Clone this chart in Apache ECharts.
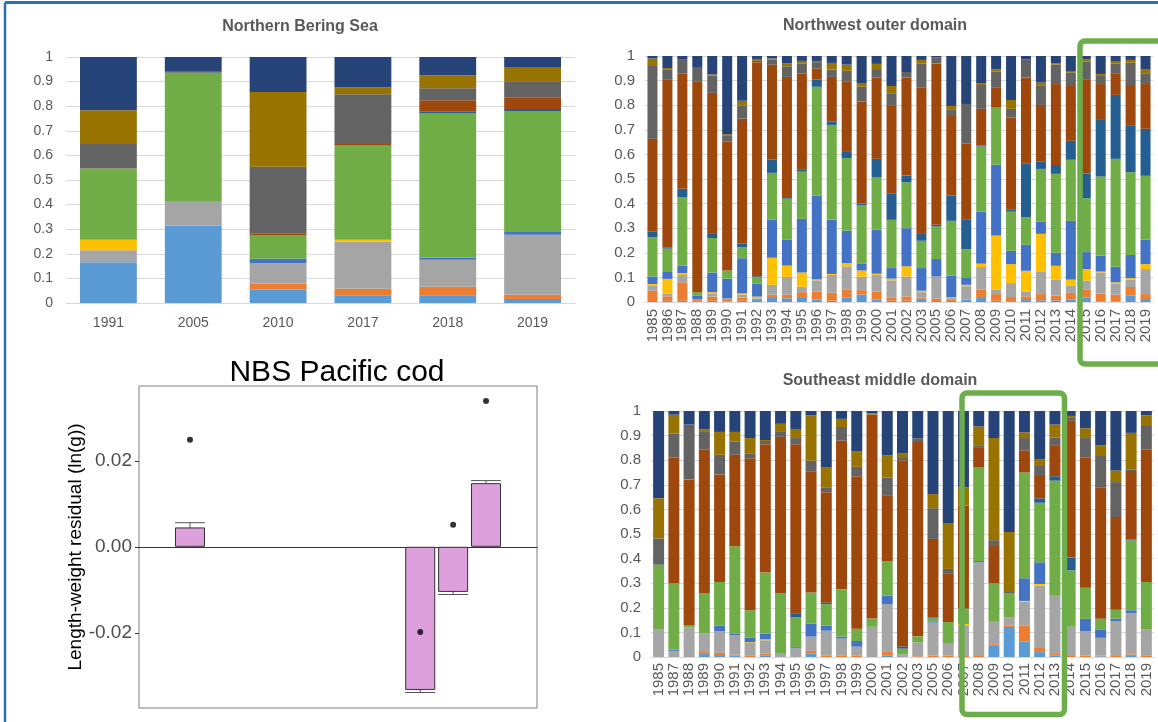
<!DOCTYPE html>
<html>
<head>
<meta charset="utf-8">
<script src="https://cdn.jsdelivr.net/npm/echarts@6.0.0/dist/echarts.min.js"></script>
<style>
  html, body { margin: 0; padding: 0; background: #ffffff; }
  #main { width: 1158px; height: 722px; }
</style>
</head>
<body>
<div id="main"></div>
<script>
// Diet composition groups, stacked bottom to top
const groupNames = ['Group 1', 'Group 2', 'Group 3', 'Group 4', 'Group 5', 'Group 6',
                    'Group 7', 'Group 8', 'Group 9', 'Group 10', 'Group 11'];
const groupColors = ['#5B9BD5', '#ED7D31', '#A5A5A5', '#FFC000', '#4472C4', '#70AD47',
                     '#255E91', '#9E480E', '#636363', '#997300', '#264478'];

// Northern Bering Sea: one row per year, proportions per group
const nbsYears = ['1991', '2005', '2010', '2017', '2018', '2019'];
const nbsShares = [
  [.166, 0, .048, .043, 0, .290, 0, 0, .099, .138, .216],
  [.314, 0, .101, 0, 0, .521, 0, 0, .004, 0, .060],
  [.054, .024, .084, 0, .018, .096, 0, .005, .273, .304, .142],
  [.032, .026, .191, .008, 0, .385, 0, .004, .203, .027, .124],
  [.032, .034, .110, 0, .009, .585, .007, .047, .049, .053, .074],
  [.016, .018, .243, 0, .012, .491, .009, .047, .065, .058, .041]
];

// Northwest outer domain
const nwYears = ['1985', '1986', '1987', '1988', '1989', '1990', '1991', '1992', '1993', '1994',
                 '1995', '1996', '1997', '1998', '1999', '2000', '2001', '2002', '2003', '2005',
                 '2006', '2007', '2008', '2009', '2010', '2011', '2012', '2013', '2014', '2015',
                 '2016', '2017', '2018', '2019'];
const nwShares = [
  [0, .046, .020, .007, .031, .160, .023, .376, .300, .027, .010],
  [.005, .018, .012, .059, .028, .095, .005, .683, .041, .005, .049],
  [.005, .075, .030, .008, .030, .277, .035, .470, .055, 0, .015],
  [.003, .005, .004, 0, .013, .015, 0, .855, .057, 0, .048],
  [.005, .017, .013, .005, .080, .140, .020, .570, .070, .005, .075],
  [.003, .005, .007, 0, .080, .033, 0, .524, .026, .004, .318],
  [.005, .013, .012, .005, .143, .044, .016, .507, .053, .020, .182],
  [.008, .004, .003, .007, .053, .027, .003, .870, .005, .008, .012],
  [.020, .010, .040, .110, .155, .190, .055, .385, .020, .005, .010],
  [.015, .015, .072, .046, .105, .167, .003, .492, .043, .012, .030],
  [.020, .020, .022, .058, .218, .192, .008, .390, .042, .010, .020],
  [.010, .033, .045, .004, .340, .443, .030, .045, .025, .005, .020],
  [.005, .033, .072, .004, .221, .385, .013, .182, .030, .027, .028],
  [.018, .032, .095, .013, .132, .295, .025, .285, .045, .025, .035],
  [.030, .018, .055, .025, .029, .236, .007, .415, .060, .015, .110],
  [.010, .033, .068, .004, .179, .212, .076, .330, .031, .025, .032],
  [.005, .014, .069, .007, .043, .196, .108, .355, .049, .032, .122],
  [.005, .018, .081, .041, .155, .187, .027, .398, .023, 0, .065],
  [.013, .006, .021, .006, .092, .111, .031, .593, .097, .014, .016],
  [0, .014, .090, 0, .071, .132, .007, .656, .025, 0, .005],
  [0, .009, .007, .004, .087, .223, .103, .323, .025, .016, .203],
  [.009, 0, .055, .006, .030, .115, .119, .311, .160, 0, .195],
  [.020, .030, .092, .014, .211, .265, .004, .149, .097, .007, .111],
  [.005, .027, .018, .220, .288, .232, 0, .083, .063, .010, .054],
  [.003, .017, .057, .077, .054, .159, .008, .375, .035, .036, .179],
  [.008, .015, .020, .084, .106, .112, .219, .349, .073, 0, .014],
  [.007, .025, .090, .155, .049, .215, .029, .231, .080, .011, .108],
  [.007, .019, .064, .057, .053, .321, .036, .329, .079, .005, .030],
  [.009, .028, .029, .025, .239, .248, .077, .223, .054, .007, .061],
  [.019, .031, .037, .047, .069, .219, .099, .382, .074, .009, .014],
  [.003, .031, .086, .004, .065, .321, .230, .146, .033, .008, .073],
  [.003, .027, .044, .006, .063, .439, .260, .088, .040, .007, .023],
  [.026, .035, .030, .006, .094, .337, .188, .166, .091, .011, .016],
  [.012, .020, .102, .020, .099, .260, .191, .182, .044, .017, .053]
];

// Southeast middle domain
const seYears = ['1985', '1987', '1988', '1989', '1990', '1991', '1992', '1993', '1994', '1995',
                 '1996', '1997', '1998', '1999', '2000', '2001', '2002', '2003', '2005', '2006',
                 '2007', '2008', '2009', '2010', '2011', '2012', '2013', '2014', '2015', '2016',
                 '2017', '2018', '2019'];
const seShares = [
  [0, 0, .111, 0, 0, .264, 0, 0, .107, .163, .355],
  [0, 0, .025, 0, .005, .270, 0, .510, .098, .077, .015],
  [0, 0, .120, 0, 0, .010, 0, .592, .223, 0, .055],
  [.012, .008, .075, 0, 0, .163, 0, .585, .075, .007, .075],
  [.008, .009, .088, 0, .022, .178, 0, .437, .080, .093, .085],
  [.005, .005, .078, 0, .007, .355, 0, .372, .053, .040, .085],
  [0, .005, .052, .003, .018, .112, 0, .618, .020, .062, .110],
  [.005, .008, .055, .004, .023, .248, 0, .522, .013, .004, .118],
  [0, 0, .013, 0, 0, .245, 0, .637, .020, .033, .052],
  [0, 0, .035, 0, .005, .122, .016, .687, .025, .037, .073],
  [.013, .012, .058, 0, .052, .127, 0, .493, .043, .184, .018],
  [0, .005, .102, 0, .020, .088, .007, .448, .020, .080, .230],
  [0, .005, .070, 0, .008, .192, 0, .605, .055, .033, .032],
  [0, .005, .037, 0, .023, .050, 0, .620, .038, .062, .165],
  [0, 0, .120, 0, .003, .033, 0, .830, 0, .004, .010],
  [.005, .015, .195, 0, .035, .140, 0, .265, .075, .090, .180],
  [0, 0, .011, 0, 0, .023, .009, .757, .009, .018, .173],
  [0, .003, .057, 0, 0, .024, 0, .790, .015, 0, .111],
  [0, .006, .134, 0, .003, .014, .003, .320, .125, .057, .338],
  [0, .006, .051, 0, 0, .085, 0, .196, .020, .187, .455],
  [0, .004, .125, .005, 0, .060, .003, .419, 0, .074, .310],
  [0, .004, .381, 0, .005, .382, 0, .078, .008, .079, .063],
  [.048, .004, .091, 0, 0, .157, 0, .155, .020, .415, .110],
  [.122, .005, .033, 0, 0, .100, 0, 0, .008, .240, .492],
  [.062, .065, .098, .003, .092, .430, 0, .090, .050, .023, .087],
  [.020, .020, .250, .007, .088, .242, .018, .095, .040, .025, .195],
  [.005, .007, .240, 0, 0, .465, .018, .123, .035, .052, .055],
  [0, .004, .116, 0, .003, .229, .053, .555, .015, .005, .020],
  [0, .006, .099, 0, .050, .127, 0, .528, .080, .040, .070],
  [.003, .003, .072, 0, .032, .045, 0, .535, .127, .043, .140],
  [0, .004, .142, 0, .010, .036, 0, .377, .142, .047, .242],
  [.004, .007, .168, 0, .011, .284, .003, .279, .005, .150, .089],
  [0, .007, .104, 0, 0, .194, 0, .538, .096, .043, .018]
];

// NBS Pacific cod length-weight residuals
const codYears = [2010, 2017, 2018, 2019];
const codMean = [0.0045, -0.0333, -0.0105, 0.0148];
const codSe = [0.0011, 0.0006, 0.0006, 0.0006];
const codPoint = [0.0249, -0.0198, 0.0051, 0.0339];
const codTicks = [-0.02, 0, 0.02];

const FONT = '"Liberation Sans", Arial, sans-serif';
const AXIS_GREY = '#595959';
const GRID_GREY = '#D9D9D9';

function shareXAxis(gridIndex, years, rotate, margin, fontSize) {
  return {
    gridIndex, type: 'category', data: years,
    axisTick: { show: false },
    axisLine: { lineStyle: { color: GRID_GREY } },
    axisLabel: { interval: 0, rotate, margin, color: AXIS_GREY, fontSize, fontFamily: FONT }
  };
}
function shareYAxis(gridIndex, margin, fontSize) {
  return {
    gridIndex, type: 'value', min: 0, max: 1, interval: 0.1,
    axisLine: { show: false }, axisTick: { show: false },
    splitLine: { lineStyle: { color: GRID_GREY, width: 1 } },
    axisLabel: { margin, color: AXIS_GREY, fontSize, fontFamily: FONT }
  };
}
function shareSeries(rows, axisIndex, gap) {
  return groupNames.map((name, k) => ({
    name, type: 'bar', stack: 'diet' + axisIndex,
    xAxisIndex: axisIndex, yAxisIndex: axisIndex,
    barCategoryGap: gap,
    data: rows.map(r => r[k]),
    itemStyle: { color: groupColors[k] },
    silent: true
  }));
}

const chart = echarts.init(document.getElementById('main'), null, { renderer: 'canvas' });

const option = {
  animation: false,
  backgroundColor: '#ffffff',
  grid: [
    { left: 66, top: 57, width: 509, height: 246, outerBoundsMode: 'none' },
    { left: 645, top: 56, width: 508, height: 246, outerBoundsMode: 'none' },
    { left: 651, top: 411, width: 503, height: 246, outerBoundsMode: 'none' },
    { left: 139, top: 386, width: 398, height: 322, outerBoundsMode: 'none',
      show: true, borderColor: '#7F7F7F', borderWidth: 1, backgroundColor: '#ffffff' }
  ],
  xAxis: [
    shareXAxis(0, nbsYears, 0, 13, 14),
    shareXAxis(1, nwYears, 90, 7, 15),
    shareXAxis(2, seYears, 90, 6, 15),
    {
      gridIndex: 3, type: 'value', min: 2008.45, max: 2020.55,
      axisLabel: { show: false }, axisTick: { show: false }, splitLine: { show: false },
      axisLine: { show: true, onZero: true, lineStyle: { color: '#333333', width: 1 } }
    }
  ],
  yAxis: [
    shareYAxis(0, 13, 14),
    shareYAxis(1, 10, 15),
    shareYAxis(2, 10, 15),
    {
      gridIndex: 3, type: 'value', min: -0.0375, max: 0.0374,
      splitLine: { show: false },
      axisLine: { show: false },
      axisTick: { show: true, customValues: codTicks, length: 4, lineStyle: { color: '#333333' } },
      axisLabel: {
        customValues: codTicks, margin: 7, color: '#4D4D4D', fontSize: 19, fontFamily: FONT,
        formatter: v => v.toFixed(2)
      },
      name: 'Length-weight residual (ln(g))',
      nameLocation: 'middle', nameGap: 48,
      nameTextStyle: { color: '#000000', fontSize: 19, fontFamily: FONT }
    }
  ],
  series: [
    ...shareSeries(nbsShares, 0, '33%'),
    ...shareSeries(nwShares, 1, '33%'),
    ...shareSeries(seShares, 2, '28%'),
    {
      type: 'bar', xAxisIndex: 3, yAxisIndex: 3, barWidth: 30,
      data: codYears.map((y, i) => [y, codMean[i]]),
      itemStyle: { color: '#DDA0DD', borderColor: '#333333', borderWidth: 1 },
      silent: true
    },
    {
      type: 'custom', xAxisIndex: 3, yAxisIndex: 3,
      data: codYears.map((y, i) => [y, codMean[i] + codSe[i], codMean[i] - codSe[i]]),
      renderItem: (params, api) => {
        const hi = api.coord([api.value(0), api.value(1)]);
        const lo = api.coord([api.value(0), api.value(2)]);
        const half = 15;
        const style = { stroke: '#555555', lineWidth: 1 };
        return {
          type: 'group',
          children: [
            { type: 'line', shape: { x1: hi[0], y1: hi[1], x2: lo[0], y2: lo[1] }, style },
            { type: 'line', shape: { x1: hi[0] - half, y1: hi[1], x2: hi[0] + half, y2: hi[1] }, style },
            { type: 'line', shape: { x1: lo[0] - half, y1: lo[1], x2: lo[0] + half, y2: lo[1] }, style }
          ]
        };
      },
      silent: true
    },
    {
      type: 'scatter', xAxisIndex: 3, yAxisIndex: 3, symbolSize: 6,
      data: codYears.map((y, i) => [y, codPoint[i]]),
      itemStyle: { color: '#000000' },
      silent: true
    }
  ],
  graphic: [
    { type: 'text', x: 300, y: 27, z: 10,
      style: { text: 'Northern Bering Sea', font: 'bold 16px ' + FONT, fill: AXIS_GREY, align: 'center', verticalAlign: 'middle' } },
    { type: 'text', x: 875, y: 26, z: 10,
      style: { text: 'Northwest outer domain', font: 'bold 16px ' + FONT, fill: AXIS_GREY, align: 'center', verticalAlign: 'middle' } },
    { type: 'text', x: 880, y: 381, z: 10,
      style: { text: 'Southeast middle domain', font: 'bold 16px ' + FONT, fill: AXIS_GREY, align: 'center', verticalAlign: 'middle' } },
    { type: 'text', x: 337, y: 373, z: 10,
      style: { text: 'NBS Pacific cod', font: '30px ' + FONT, fill: '#000000', align: 'center', verticalAlign: 'middle' } },
    // slide frame
    { type: 'line', z: 50, shape: { x1: 5, y1: 2.5, x2: 1158, y2: 2.5 }, style: { stroke: '#2F6DB5', lineWidth: 3 } },
    { type: 'line', z: 50, shape: { x1: 5, y1: 2.5, x2: 5, y2: 722 }, style: { stroke: '#2F6DB5', lineWidth: 2.5 } },
    // highlight boxes
    { type: 'rect', z: 100, shape: { x: 1080, y: 41, width: 100, height: 323, r: 5 },
      style: { fill: 'none', stroke: '#6EAD4B', lineWidth: 5.5 } },
    { type: 'rect', z: 100, shape: { x: 962, y: 393, width: 102.5, height: 321.5, r: 5 },
      style: { fill: 'none', stroke: '#6EAD4B', lineWidth: 5.5 } }
  ]
};

chart.setOption(option);
</script>
</body>
</html>
